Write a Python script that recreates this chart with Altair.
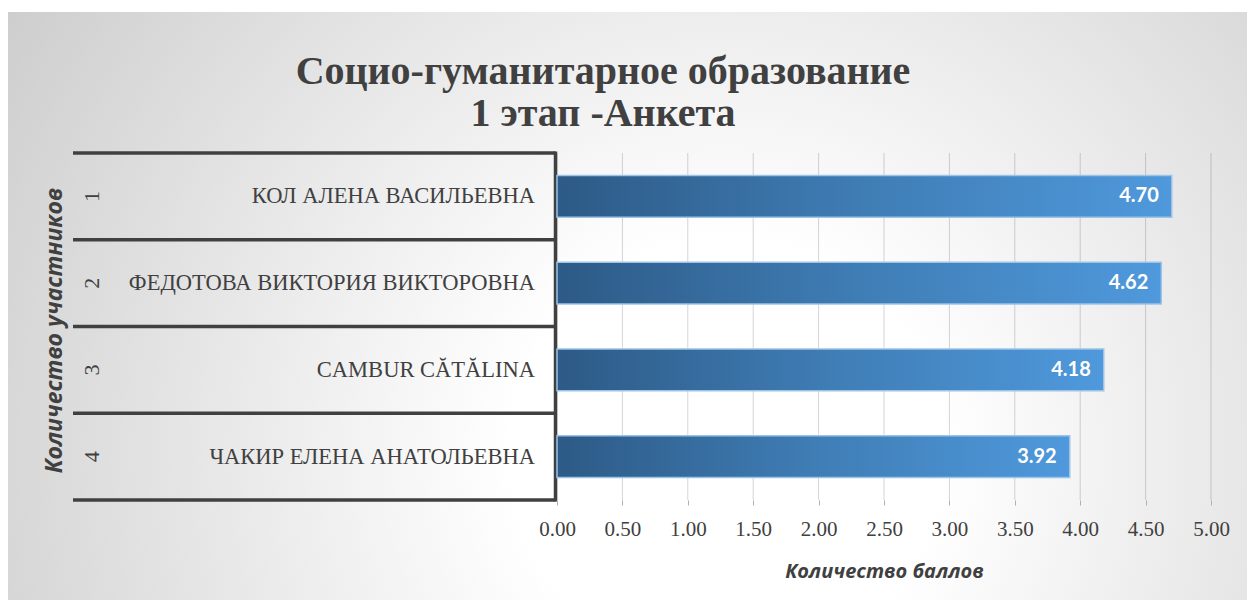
import altair as alt
import pandas as pd

# ---- data ----
names = ["КОЛ АЛЕНА ВАСИЛЬЕВНА", "ФЕДОТОВА ВИКТОРИЯ ВИКТОРОВНА", "CAMBUR CĂTĂLINA", "ЧАКИР ЕЛЕНА АНАТОЛЬЕВНА"]
ranks = [1, 2, 3, 4]
scores = [4.70, 4.62, 4.18, 3.92]
x_ticks = [0.0, 0.5, 1.0, 1.5, 2.0, 2.5, 3.0, 3.5, 4.0, 4.5, 5.0]
title_lines = ["Социо-гуманитарное образование", "1 этап -Анкета"]
x_title = "Количество баллов"
y_title = "Количество участников"

# ---- layout ----
W, H = 654, 347
PAD_L, PAD_T, PAD_R, PAD_B = 549, 145, 36, 100
TXT = "#404040"
SERIF = "Liberation Serif"
SANS = "Open Sans"

df = pd.DataFrame({"name": names, "rank": [str(r) for r in ranks], "score": scores})
edges = pd.DataFrame({"edge": list(range(len(names) + 1))})
grid = pd.DataFrame({"t": x_ticks})
one = alt.Data(values=[{"t": y_title}])
title_data = alt.Data(values=[{"t": "\n".join(title_lines)}])

xscale = alt.Scale(domain=[x_ticks[0], x_ticks[-1]], nice=False, zero=True)
yband = alt.Scale(domain=names, paddingInner=0.52, paddingOuter=0.26)

bg_grad = alt.RadialGradient(
    gradient="radial", x1=0.58, y1=0.62, r1=0.0, x2=0.58, y2=0.62, r2=0.78,
    stops=[alt.GradientStop(color="#ffffff", offset=0.0),
           alt.GradientStop(color="#ffffff", offset=0.22),
           alt.GradientStop(color="#c4c4c4", offset=1.0)])

bar_grad = alt.LinearGradient(
    gradient="linear", x1=0, y1=0, x2=1, y2=0,
    stops=[alt.GradientStop(color="#2d5a86", offset=0.0),
           alt.GradientStop(color="#3f7db5", offset=0.5),
           alt.GradientStop(color="#4f99dc", offset=1.0)])

x_axis = alt.Axis(values=x_ticks, format=".2f", grid=False, domain=False,
                  ticks=True, tickColor="#b0b0b0", tickSize=5, zindex=2,
                  labelFlush=False, labelOverlap=False,
                  labelFont=SERIF, labelFontSize=21, labelColor=TXT, labelPadding=13,
                  title=x_title, titleFont=SANS, titleFontStyle="italic",
                  titleFontWeight="bold", titleFontSize=20, titleColor=TXT,
                  titlePadding=22)

bg = alt.Chart(one).mark_rect(color=bg_grad).encode(
    x=alt.value(-PAD_L), x2=alt.value(W + PAD_R),
    y=alt.value(-PAD_T + 4), y2=alt.value(H + PAD_B))

gridlines = alt.Chart(grid).mark_rule(color="#000000", opacity=0.17, strokeWidth=1).encode(
    x=alt.X("t:Q", scale=xscale, axis=x_axis),
    y=alt.value(0), y2=alt.value(H))

hrules = alt.Chart(edges).mark_rule(color=TXT, strokeWidth=3.5).encode(
    x=alt.value(-484), x2=alt.value(-1.5),
    y=alt.Y("edge:Q", scale=alt.Scale(domain=[0, len(names)], reverse=True, nice=False, zero=False), axis=None))

vrule = alt.Chart(one).mark_rule(color=TXT, strokeWidth=3.5).encode(
    x=alt.value(-1.5), y=alt.value(-1.5), y2=alt.value(H + 1.5))

bars = alt.Chart(df).mark_bar(color=bar_grad, stroke="#9cc3e8", strokeWidth=1.5).encode(
    x=alt.X("score:Q", scale=xscale),
    y=alt.Y("name:N", scale=yband, axis=None, sort=names))

values = alt.Chart(df).mark_text(align="right", baseline="middle", dx=-13, color="white",
                                  font="Lato", fontWeight="bold", fontSize=20).encode(
    x=alt.X("score:Q", scale=xscale),
    y=alt.Y("name:N", scale=yband, sort=names, axis=None),
    text=alt.Text("score:Q", format=".2f"))

name_txt = alt.Chart(df).mark_text(align="right", baseline="middle", color=TXT,
                                    font=SERIF, fontSize=22.5).encode(
    x=alt.value(-22),
    y=alt.Y("name:N", scale=yband, sort=names, axis=None),
    text="name:N")

num_txt = alt.Chart(df).mark_text(align="center", baseline="middle", angle=270, color=TXT,
                                   font=SERIF, fontSize=22).encode(
    x=alt.value(-465),
    y=alt.Y("name:N", scale=yband, sort=names, axis=None),
    text="rank:N")

ytitle = alt.Chart(one).mark_text(align="center", baseline="middle", angle=270, color=TXT,
                                   font=SANS, fontStyle="italic", fontWeight="bold",
                                   fontSize=23).encode(
    x=alt.value(-502), y=alt.value(H / 2 + 4), text="t:N")

title_txt = alt.Chart(title_data).mark_text(align="center", baseline="middle", color=TXT,
                                            font=SERIF, fontWeight="bold", fontSize=40,
                                            lineBreak="\n", lineHeight=42).encode(
    x=alt.value(46), y=alt.value(-81), text="t:N")

chart = alt.layer(bg, gridlines, hrules, vrule, bars, values, name_txt, num_txt, ytitle,
                  title_txt).resolve_scale(
    y="independent"
).properties(
    width=W, height=H,
    padding={"left": PAD_L, "top": PAD_T, "right": PAD_R, "bottom": PAD_B},
    autosize=alt.AutoSizeParams(type="none"),
).configure_view(stroke=None).configure(background="white")

chart.save("out.html", embed_options={"renderer": "svg", "actions": False})
